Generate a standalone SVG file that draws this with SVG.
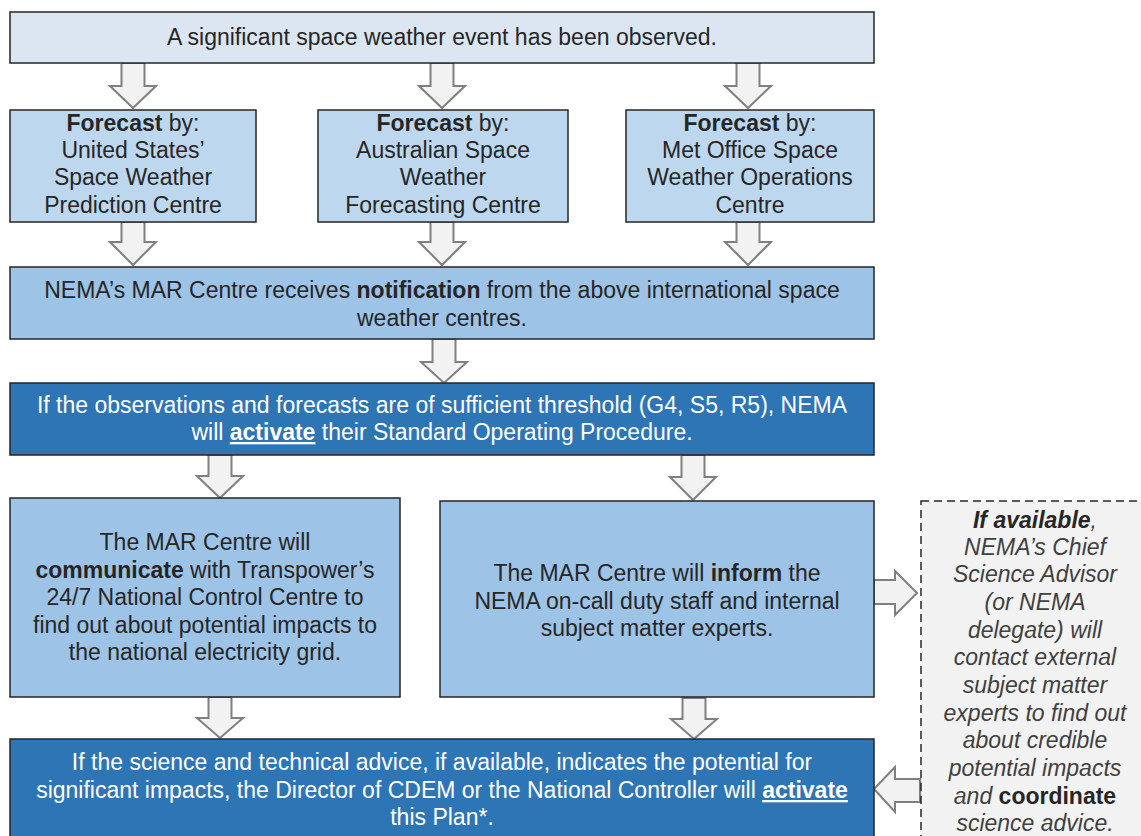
<svg xmlns="http://www.w3.org/2000/svg" width="1141" height="836" viewBox="0 0 1141 836">
<style>
.box{stroke:#262626;stroke-width:1.5}
.l1{fill:#dce6f2}.l2{fill:#bdd7ee}.l3{fill:#9dc3e6}.d{fill:#2e75b6}
.t{font-family:"Liberation Sans",Arial,sans-serif;font-size:23px;fill:#262626;text-anchor:middle}
.w{fill:#ffffff}
.i{font-style:italic;fill:#404040}
.b{font-weight:bold}
.u{text-decoration:underline}
.arr{fill:#f2f2f2;stroke:#7f7f7f;stroke-width:2;stroke-linejoin:miter}
</style>
<rect width="1141" height="836" fill="#ffffff"/>
<g id="connectors">
<path class="arr" d="M121.5 63 H144.5 V86 H156 L133 108 L110 86 H121.5 Z"/>
<path class="arr" d="M430.5 63 H453.5 V86 H465 L442 108 L419 86 H430.5 Z"/>
<path class="arr" d="M736.5 63 H759.5 V86 H771 L748 108 L725 86 H736.5 Z"/>
<path class="arr" d="M121.5 222 H144.5 V242 H156 L133 265 L110 242 H121.5 Z"/>
<path class="arr" d="M430.5 222 H453.5 V242 H465 L442 265 L419 242 H430.5 Z"/>
<path class="arr" d="M736.5 222 H759.5 V242 H771 L748 265 L725 242 H736.5 Z"/>
<path class="arr" d="M432.5 339 H455.5 V362 H467 L444 383 L421 362 H432.5 Z"/>
<path class="arr" d="M208.5 455 H231.5 V476 H243 L220 498 L197 476 H208.5 Z"/>
<path class="arr" d="M681.5 455 H704.5 V477 H716 L693 500 L670 477 H681.5 Z"/>
<path class="arr" d="M208.5 697 H231.5 V718 H243 L220 738 L197 718 H208.5 Z"/>
<path class="arr" d="M682.5 698 H705.5 V719 H717 L694 739 L671 719 H682.5 Z"/>
<path class="arr" d="M874 580 H895 V571 L917 593 L895 615 V604 H874 Z"/>
<path class="arr" d="M920 779 H895 V767 L874 789 L895 812 V802 H920 Z"/>
</g>
<g id="n-event">
<rect class="box l1" x="10" y="12" width="864" height="51"/>
<text class="t" x="442" y="45">A significant space weather event has been observed.</text>
</g>
<g id="n-us">
<rect class="box l2" x="10" y="110" width="246" height="112"/>
<text class="t" x="133" y="131"><tspan class="b">Forecast</tspan> by:</text>
<text class="t" x="133" y="158">United States’</text>
<text class="t" x="133" y="185">Space Weather</text>
<text class="t" x="133" y="213">Prediction Centre</text>
</g>
<g id="n-au">
<rect class="box l2" x="318" y="110" width="250" height="112"/>
<text class="t" x="443" y="131"><tspan class="b">Forecast</tspan> by:</text>
<text class="t" x="443" y="158">Australian Space</text>
<text class="t" x="443" y="185">Weather</text>
<text class="t" x="443" y="213">Forecasting Centre</text>
</g>
<g id="n-uk">
<rect class="box l2" x="626" y="110" width="248" height="112"/>
<text class="t" x="750" y="131"><tspan class="b">Forecast</tspan> by:</text>
<text class="t" x="750" y="158">Met Office Space</text>
<text class="t" x="750" y="185">Weather Operations</text>
<text class="t" x="750" y="213">Centre</text>
</g>
<g id="n-mar">
<rect class="box l3" x="10" y="267" width="864" height="72"/>
<text class="t" x="442" y="298">NEMA’s MAR Centre receives <tspan class="b">notification</tspan> from the above international space</text>
<text class="t" x="442" y="326">weather centres.</text>
</g>
<g id="n-sop">
<rect class="box d" x="10" y="383" width="864" height="72"/>
<text class="t w" x="442" y="413">If the observations and forecasts are of sufficient threshold (G4, S5, R5), NEMA</text>
<text class="t w" x="442" y="440">will <tspan class="b u">activate</tspan> their Standard Operating Procedure.</text>
</g>
<g id="n-transpower">
<rect class="box l3" x="10" y="498" width="390" height="199"/>
<text class="t" x="205" y="550">The MAR Centre will</text>
<text class="t" x="205" y="578"><tspan class="b">communicate</tspan> with Transpower’s</text>
<text class="t" x="205" y="605">24/7 National Control Centre to</text>
<text class="t" x="205" y="633">find out about potential impacts to</text>
<text class="t" x="205" y="660">the national electricity grid.</text>
</g>
<g id="n-inform">
<rect class="box l3" x="440" y="501" width="434" height="196"/>
<text class="t" x="657" y="581">The MAR Centre will <tspan class="b">inform</tspan> the</text>
<text class="t" x="657" y="609">NEMA on-call duty staff and internal</text>
<text class="t" x="657" y="636">subject matter experts.</text>
</g>
<g id="n-science">
<rect x="921" y="501" width="240" height="360" fill="#f2f2f2" stroke="#262626" stroke-width="1.5" stroke-dasharray="8,5"/>
<text class="t i" x="1035" y="528"><tspan class="b" fill="#262626">If available</tspan>,</text>
<text class="t i" x="1035" y="555">NEMA’s Chief</text>
<text class="t i" x="1035" y="582">Science Advisor</text>
<text class="t i" x="1035" y="610">(or NEMA</text>
<text class="t i" x="1035" y="638">delegate) will</text>
<text class="t i" x="1035" y="665">contact external</text>
<text class="t i" x="1035" y="693">subject matter</text>
<text class="t i" x="1035" y="721">experts to find out</text>
<text class="t i" x="1035" y="748">about credible</text>
<text class="t i" x="1035" y="776">potential impacts</text>
<text class="t i" x="1035" y="804">and <tspan class="b" style="font-style:normal" fill="#262626">coordinate</tspan></text>
<text class="t i" x="1035" y="831">science advice.</text>
</g>
<g id="n-activate">
<rect class="box d" x="10" y="739" width="864" height="110"/>
<text class="t w" x="442" y="770">If the science and technical advice, if available, indicates the potential for</text>
<text class="t w" x="442" y="798">significant impacts, the Director of CDEM or the National Controller will <tspan class="b u">activate</tspan></text>
<text class="t w" x="442" y="825">this Plan*.</text>
</g>
</svg>
